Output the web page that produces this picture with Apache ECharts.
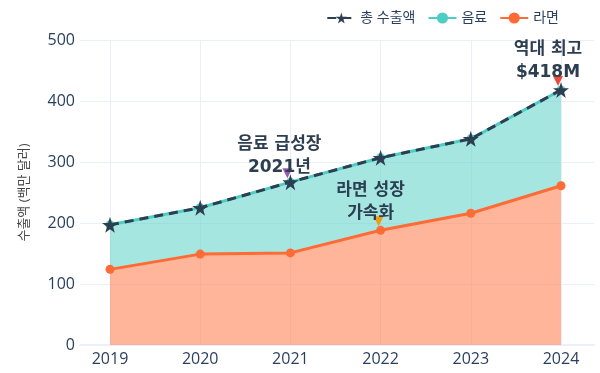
<!DOCTYPE html>
<html><head><meta charset="utf-8">
<script src="https://cdn.jsdelivr.net/npm/echarts@6/dist/echarts.min.js"></script>
<style>html,body{margin:0;padding:0;background:#fff}#c{width:600px;height:373px}</style>
</head><body><div id="c"></div>
<script>
const years = ['2019', '2020', '2021', '2022', '2023', '2024'];
const ramen = [124, 149, 151, 188, 216, 261];
const beverage = [73, 76, 116, 119, 122, 157];
const total = [197, 225, 267, 307, 338, 418];
const yTicks = [0, 100, 200, 300, 400, 500];

const FONT = '"Open Sans", "Noto Sans CJK KR", sans-serif';
const ANN_FONT = '"DejaVu Sans", "Noto Sans CJK KR", sans-serif';
const STAR = 'path://M50,0 L61,35 L98,35 L68,57 L79,91 L50,70 L21,91 L32,57 L2,35 L39,35 Z';
const annLabel = (text, dx, dy) => ({
  show: true, position: 'top', distance: 0, offset: [dx, dy], formatter: text,
  color: '#2c3e50', fontSize: 17, fontWeight: 'bold', fontFamily: ANN_FONT, lineHeight: 23, align: 'center'
});

const chart = echarts.init(document.getElementById('c'));
chart.setOption({
  animation: false,
  textStyle: { fontFamily: FONT },
  grid: [
    { left: 110, right: 39, top: 40, bottom: 28 },
    { left: 80, right: 6, top: 40, bottom: 28 }
  ],
  legend: {
    data: ['총 수출액', '음료', '라면'],
    top: 6, right: 36, itemWidth: 28, itemHeight: 14, itemGap: 12,
    textStyle: { fontSize: 14, color: '#2a3f5f', fontFamily: FONT }
  },
  xAxis: [
    {
      type: 'category', gridIndex: 0, data: years, boundaryGap: false,
      axisLine: { show: false }, axisTick: { show: false },
      axisLabel: { color: '#2a3f5f', fontSize: 16, margin: 6 },
      splitLine: { show: true, lineStyle: { color: '#ebf0f8', width: 1 } }
    },
    {
      type: 'value', gridIndex: 1, min: 0, max: 1,
      axisLine: { show: true, onZero: false, lineStyle: { color: '#ebf0f8', width: 2 } },
      axisTick: { show: false }, axisLabel: { show: false }, splitLine: { show: false }
    }
  ],
  yAxis: [
    {
      type: 'value', gridIndex: 0, min: 0, max: 500, interval: 100,
      axisLine: { show: false }, axisTick: { show: false },
      axisLabel: { show: false }, splitLine: { show: false }
    },
    {
      type: 'value', gridIndex: 1, min: 0, max: 500, interval: 100,
      name: '수출액 (백만 달러)', nameLocation: 'middle', nameGap: 49,
      nameTextStyle: { fontSize: 13, color: '#444', fontFamily: FONT },
      axisLine: { show: false }, axisTick: { show: false },
      axisLabel: { color: '#2a3f5f', fontSize: 16, margin: 5,
        formatter: v => yTicks.includes(v) ? String(v) : '' },
      splitLine: { lineStyle: { color: '#ebf0f8', width: 1 } }
    }
  ],
  series: [
    {
      name: '라면', type: 'line', stack: 'exp', data: ramen, z: 2,
      xAxisIndex: 0, yAxisIndex: 0,
      symbol: 'circle', symbolSize: 9, showSymbol: true,
      itemStyle: { color: '#ff6b35' },
      lineStyle: { color: '#ff6b35', width: 3 },
      areaStyle: { color: 'rgba(255,107,53,0.5)', opacity: 1 },
      markPoint: {
        symbol: 'triangle', symbolRotate: 180, symbolSize: [10, 10], symbolOffset: [-2, -9],
        itemStyle: { color: '#f39c12' },
        data: [{ coord: ['2022', ramen[3]], label: annLabel('라면 성장\n가속화', -8, 8.5) }]
      }
    },
    {
      name: '음료', type: 'line', stack: 'exp', data: beverage, z: 2,
      xAxisIndex: 0, yAxisIndex: 0,
      symbol: 'circle', symbolSize: 9, showSymbol: true,
      itemStyle: { color: '#4ecdc4' },
      lineStyle: { color: '#4ecdc4', width: 3 },
      areaStyle: { color: 'rgba(78,205,196,0.5)', opacity: 1 }
    },
    {
      name: '총 수출액', type: 'line', data: total, z: 5,
      xAxisIndex: 0, yAxisIndex: 0,
      symbol: STAR, symbolSize: 16, showSymbol: true,
      itemStyle: { color: '#2c3e50' },
      lineStyle: { color: '#2c3e50', width: 3, type: [9, 6] },
      markPoint: {
        symbol: 'triangle', symbolRotate: 180, symbolSize: [10, 10], symbolOffset: [-3, -9],
        data: [
          { coord: ['2021', total[2]], itemStyle: { color: '#9b59b6' },
            label: annLabel('음료 급성장\n2021년', -8, 11) },
          { coord: ['2024', total[5]], itemStyle: { color: '#e74c3c' },
            label: annLabel('역대 최고\n$418M', -10, 8.5) }
        ]
      }
    }
  ]
});
</script></body></html>
